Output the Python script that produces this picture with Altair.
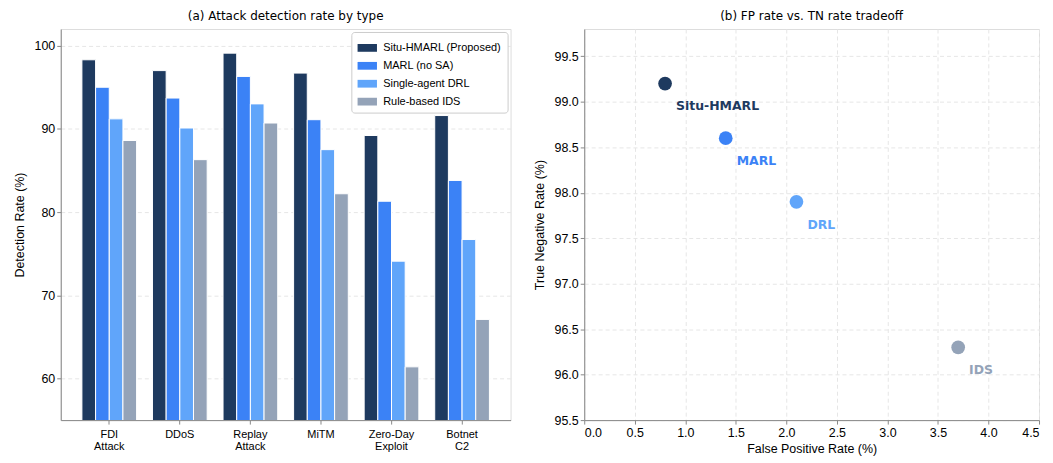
import altair as alt
import pandas as pd

# ---- data ----
categories = ["FDI|Attack", "DDoS", "Replay|Attack", "MiTM", "Zero-Day|Exploit", "Botnet|C2"]
methods = ["Situ-HMARL (Proposed)", "MARL (no SA)", "Single-agent DRL", "Rule-based IDS"]
situ = [98.3, 97.0, 99.1, 96.7, 89.2, 91.6]
marl = [95.0, 93.7, 96.3, 91.1, 81.3, 83.8]
drl = [91.2, 90.1, 93.0, 87.5, 74.1, 76.7]
ids = [88.6, 86.3, 90.7, 82.2, 61.4, 67.1]
colors = ["#1e3a5f", "#3b82f6", "#60a5fa", "#94a3b8"]

short_names = ["Situ-HMARL", "MARL", "DRL", "IDS"]
fp_rate = [0.8, 1.4, 2.1, 3.7]
tn_rate = [99.2, 98.6, 97.9, 96.3]

rows = []
for m, vals in zip(methods, [situ, marl, drl, ids]):
    for c, v in zip(categories, vals):
        rows.append({"cat": c, "method": m, "rate": v})
bar_df = pd.DataFrame(rows)
pt_df = pd.DataFrame({"name": short_names, "fp": fp_rate, "tn": tn_rate})

FONT = "DejaVu Sans"
grid_dash = [4, 3]

bars = alt.Chart(bar_df).mark_bar(stroke="white", strokeWidth=1, clip=True).encode(
    x=alt.X("cat:N", sort=categories, title=None,
            scale=alt.Scale(paddingInner=0.225, paddingOuter=0.3),
            axis=alt.Axis(labelAngle=0, labelExpr="split(datum.value, '|')",
                          labelFontSize=11, labelPadding=4, tickSize=4, grid=False,
                          labelLineHeight=13)),
    xOffset=alt.XOffset("method:N", sort=methods, scale=alt.Scale(paddingInner=0, paddingOuter=0)),
    y=alt.Y("rate:Q", title="Detection Rate (%)",
            scale=alt.Scale(domain=[55, 102], zero=False, nice=False),
            axis=alt.Axis(values=[60, 70, 80, 90, 100], grid=True, gridDash=grid_dash,
                          gridColor="#e6e6e6", tickSize=4, labelFontSize=12.5,
                          titleFontSize=12.5, titleFontWeight="normal", titlePadding=8)),
    color=alt.Color("method:N", sort=methods,
                    scale=alt.Scale(domain=methods, range=colors),
                    legend=alt.Legend(title=None, orient="top-right", offset=3,
                                      fillColor="white", strokeColor="#cccccc",
                                      padding=6, cornerRadius=3, labelFontSize=11,
                                      symbolType="M-1,-0.4H1V0.4H-1Z", symbolSize=380,
                                      symbolStrokeWidth=0, rowPadding=3, labelOffset=6)),
).properties(width=452, height=393,
             title=alt.TitleParams("(a) Attack detection rate by type", fontSize=12,
                                   fontWeight="normal", font=FONT, offset=6))

base = alt.Chart(pt_df).encode(
    x=alt.X("fp:Q", title="False Positive Rate (%)",
            scale=alt.Scale(domain=[0, 4.5], nice=False),
            axis=alt.Axis(values=[0, 0.5, 1, 1.5, 2, 2.5, 3, 3.5, 4, 4.5], format=".1f",
                          grid=True, gridDash=grid_dash, gridColor="#e6e6e6",
                          tickSize=4, labelFontSize=12.5, titleFontSize=12.5,
                          titleFontWeight="normal")),
    y=alt.Y("tn:Q", title="True Negative Rate (%)",
            scale=alt.Scale(domain=[95.5, 99.8], nice=False, zero=False),
            axis=alt.Axis(values=[95.5, 96, 96.5, 97, 97.5, 98, 98.5, 99, 99.5], format=".1f",
                          grid=True, gridDash=grid_dash, gridColor="#e6e6e6",
                          tickSize=4, labelFontSize=12.5, titleFontSize=12.5,
                          titleFontWeight="normal", titlePadding=8)),
    color=alt.Color("name:N", scale=alt.Scale(domain=short_names, range=colors), legend=None),
)
points = base.mark_circle(size=190, opacity=1)
labels = base.mark_text(align="left", baseline="middle", dx=11, dy=23,
                        fontWeight="bold", fontSize=12.5, font=FONT).encode(text="name:N")

scatter = (points + labels).properties(
    width=457, height=393,
    title=alt.TitleParams("(b) FP rate vs. TN rate tradeoff", fontSize=12,
                          fontWeight="normal", font=FONT, offset=6))

chart = alt.hconcat(bars, scatter, spacing=21).resolve_scale(
    color="independent"
).resolve_legend(color="independent").configure_view(stroke=None).configure_axis(
    labelFont=FONT, titleFont=FONT, domainColor="#333333", tickColor="#333333",
    labelColor="#222222", titleColor="#222222"
).configure_legend(labelFont=FONT).configure(padding={"left": 4, "top": 0, "right": 5, "bottom": 5})

chart.save("out.html", embed_options={"renderer": "svg", "actions": False})
